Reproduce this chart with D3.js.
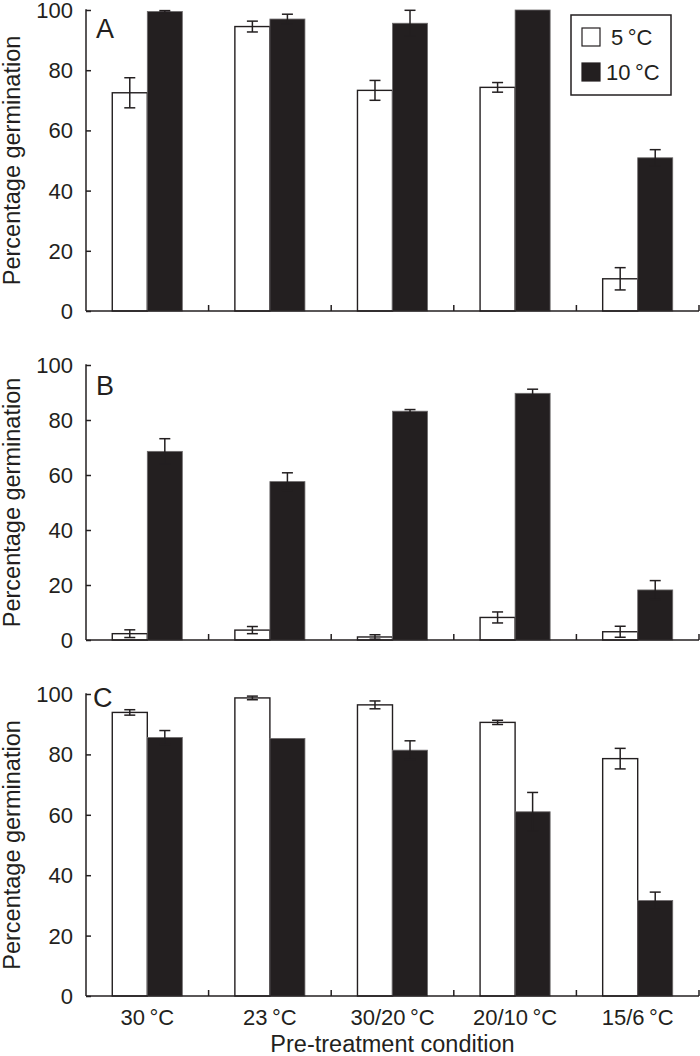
<!DOCTYPE html>
<html>
<head>
<meta charset="utf-8">
<script src="https://d3js.org/d3.v7.min.js"></script>
<style>
  body { margin: 0; background: #fff; }
  text { font-family: "Liberation Sans", Arial, Helvetica, sans-serif; fill: #231f20; }
</style>
</head>
<body>
<svg id="chart" width="700" height="1056"></svg>
<script>
var categories = ["30\u2009°C", "23\u2009°C", "30/20\u2009°C", "20/10\u2009°C", "15/6\u2009°C"]
var series = ["5\u2009°C", "10\u2009°C"]
var yTicks = [0, 20, 40, 60, 80, 100]

// panel A
var a5 = [72.5, 94.5, 73.3, 74.3, 10.7]
var a5err = [5.0, 1.8, 3.3, 1.6, 3.7]
var a10 = [99.5, 97.0, 95.6, 100, 50.9]
var a10err = [0.3, 1.6, 4.3, 0, 2.7]
// panel B
var b5 = [2.3, 3.6, 1.1, 8.2, 3.0]
var b5err = [1.4, 1.3, 0.8, 2.0, 2.0]
var b10 = [68.6, 57.6, 83.2, 89.7, 18.2]
var b10err = [4.6, 3.2, 0.6, 1.5, 3.4]
// panel C
var c5 = [93.9, 98.7, 96.4, 90.6, 78.6]
var c5err = [0.9, 0.6, 1.3, 0.7, 3.4]
var c10 = [85.6, 85.3, 81.4, 61.0, 31.6]
var c10err = [2.3, 0, 3.1, 6.4, 2.8]

var ink = "#231f20"
var svg = d3.select("#chart")

var x0 = d3.scaleBand().domain(categories).range([86, 699]).paddingInner(0).paddingOuter(0)
var x1 = d3.scaleBand().domain(series).range([0, x0.bandwidth()]).paddingInner(0).paddingOuter(0.75)

var panels = [
    { letter: "A", top: 10, bottom: 311, v5: a5, e5: a5err, v10: a10, e10: a10err, lx: 96, ly: 38 },
    { letter: "B", top: 365, bottom: 640, v5: b5, e5: b5err, v10: b10, e10: b10err, lx: 96, ly: 395 },
    { letter: "C", top: 694, bottom: 996, v5: c5, e5: c5err, v10: c10, e10: c10err, lx: 93, ly: 707 }
]

panels.forEach(function (p, pi) {
    var y = d3.scaleLinear().domain([0, 100]).range([p.bottom, p.top])
    var g = svg.append("g")

    var rows = []
    categories.forEach(function (c, i) {
        rows.push({ cat: c, s: series[0], v: p.v5[i], e: p.e5[i] })
        rows.push({ cat: c, s: series[1], v: p.v10[i], e: p.e10[i] })
    })

    g.selectAll("rect.bar")
        .data(rows)
        .enter().append("rect")
        .attr("class", "bar")
        .attr("x", function (d) { return x0(d.cat) + x1(d.s) })
        .attr("y", function (d) { return y(d.v) })
        .attr("width", x1.bandwidth())
        .attr("height", function (d) { return y(0) - y(d.v) })
        .style("fill", function (d) { return d.s == series[0] ? "#fff" : ink })
        .style("stroke", function (d) { return d.s == series[0] ? ink : "#6d6a6b" })
        .style("stroke-width", function (d) { return d.s == series[0] ? 1.4 : 0.8 })

    var errs = g.selectAll("g.err")
        .data(rows.filter(function (d) { return d.e > 0 }))
        .enter().append("g")
        .attr("class", "err")
        .attr("transform", function (d) { return "translate(" + (x0(d.cat) + x1(d.s) + x1.bandwidth() / 2) + ",0)" })

    errs.append("line")
        .attr("x1", 0).attr("x2", 0)
        .attr("y1", function (d) { return y(d.v - d.e) })
        .attr("y2", function (d) { return y(d.v + d.e) })
    errs.append("line")
        .attr("x1", -5.5).attr("x2", 5.5)
        .attr("y1", function (d) { return y(d.v + d.e) })
        .attr("y2", function (d) { return y(d.v + d.e) })
    errs.append("line")
        .attr("x1", -5.5).attr("x2", 5.5)
        .attr("y1", function (d) { return y(d.v - d.e) })
        .attr("y2", function (d) { return y(d.v - d.e) })
    errs.selectAll("line").style("stroke", ink).style("stroke-width", 1.5)

    // y axis, ticks pointing inward
    var yAxis = g.append("g")
        .attr("transform", "translate(86,0)")
        .call(d3.axisRight(y).tickValues(yTicks).tickSize(5).tickFormat(""))
    yAxis.select(".domain").remove()
    yAxis.selectAll("line").style("stroke", ink).style("stroke-width", 1.5)
    g.append("line")
        .attr("x1", 86).attr("x2", 86)
        .attr("y1", y(100) - 0.75).attr("y2", y(0))
        .style("stroke", ink).style("stroke-width", 1.5)

    g.selectAll("text.ytick")
        .data(yTicks)
        .enter().append("text")
        .attr("class", "ytick")
        .attr("x", 73)
        .attr("y", function (d) { return y(d) })
        .attr("dy", "0.36em")
        .attr("text-anchor", "end")
        .style("font-size", "22px")
        .text(function (d) { return d })

    // x axis
    g.append("line")
        .attr("x1", 86).attr("x2", 699)
        .attr("y1", y(0)).attr("y2", y(0))
        .style("stroke", ink).style("stroke-width", 1.5)
    g.selectAll("line.xtick")
        .data(categories)
        .enter().append("line")
        .attr("class", "xtick")
        .attr("x1", function (d) { return x0(d) + x0.bandwidth() })
        .attr("x2", function (d) { return x0(d) + x0.bandwidth() })
        .attr("y1", y(0)).attr("y2", y(0) - 6)
        .style("stroke", ink).style("stroke-width", 1.5)

    g.append("text")
        .attr("transform", "translate(20," + ((p.top + p.bottom) / 2) + ") rotate(-90)")
        .attr("text-anchor", "middle")
        .style("font-size", "23.5px")
        .text("Percentage germination")

    g.append("text")
        .attr("x", p.lx).attr("y", p.ly)
        .style("font-size", "27px")
        .text(p.letter)

    if (pi == 2) {
        g.selectAll("text.xlab")
            .data(categories)
            .enter().append("text")
            .attr("class", "xlab")
            .attr("x", function (d) { return x0(d) + x0.bandwidth() / 2 })
            .attr("y", 1025)
            .attr("text-anchor", "middle")
            .style("font-size", "22px")
            .text(function (d) { return d })

        g.append("text")
            .attr("x", (86 + 699) / 2).attr("y", 1052)
            .attr("text-anchor", "middle")
            .style("font-size", "23.5px")
            .text("Pre-treatment condition")
    }
})

// legend
var legend = svg.append("g")
legend.append("rect")
    .attr("x", 571).attr("y", 15).attr("width", 100).attr("height", 80)
    .style("fill", "#fff").style("stroke", ink).style("stroke-width", 1.5)
legend.selectAll("rect.sw")
    .data(series)
    .enter().append("rect")
    .attr("class", "sw")
    .attr("x", 582)
    .attr("y", function (d, i) { return 28 + i * 35 })
    .attr("width", 18).attr("height", 18)
    .style("fill", function (d, i) { return i == 0 ? "#fff" : ink })
    .style("stroke", ink).style("stroke-width", 1.2)
legend.selectAll("text.lg")
    .data(series)
    .enter().append("text")
    .attr("class", "lg")
    .attr("x", function (d, i) { return i == 0 ? 611 : 606 })
    .attr("y", function (d, i) { return 45 + i * 35 })
    .style("font-size", "22px")
    .text(function (d) { return d })
</script>
</body>
</html>
